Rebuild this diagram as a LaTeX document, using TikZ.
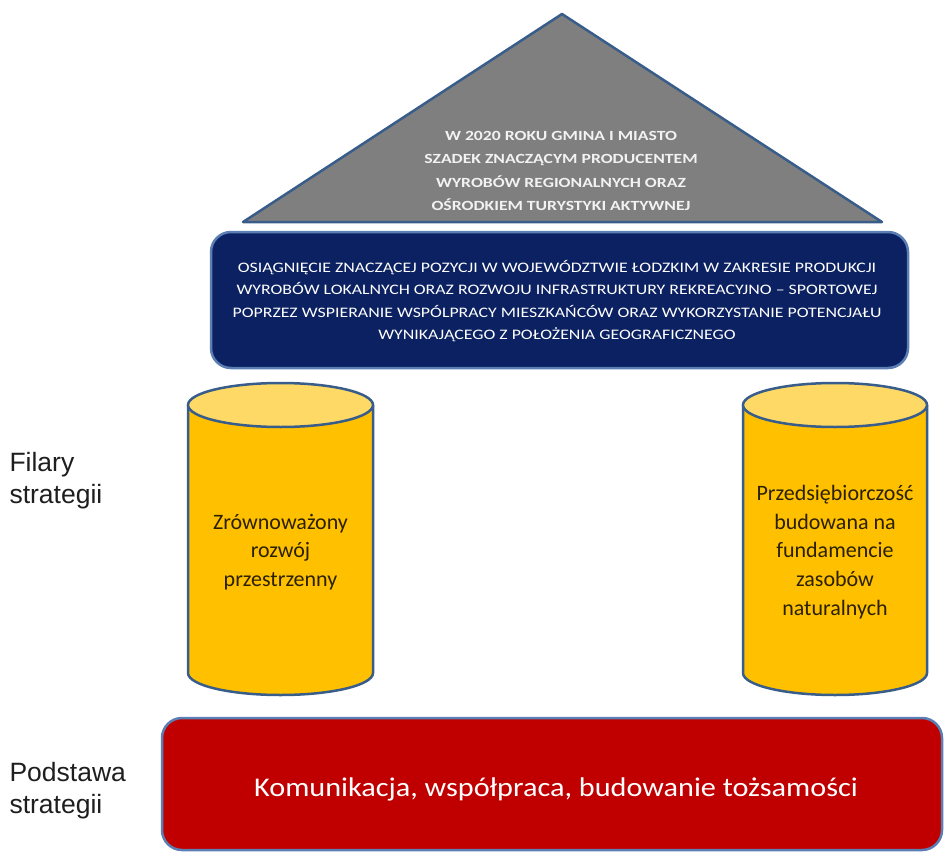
\documentclass[tikz,border=0pt]{standalone}
\usepackage{fontspec}
\setmainfont{Carlito}
\newfontfamily\arialf{Liberation Sans}
\definecolor{edgeblue}{HTML}{385D8A}
\definecolor{boxedge}{HTML}{5B7FB5}
\definecolor{roofgray}{HTML}{7F7F7F}
\definecolor{navy}{HTML}{0B2161}
\definecolor{pillar}{HTML}{FFC000}
\definecolor{pillartop}{HTML}{FFD966}
\definecolor{basered}{HTML}{C00000}
\definecolor{pillartext}{HTML}{2B2100}
\definecolor{labeltext}{HTML}{1E1E1E}
\definecolor{rooftextc}{HTML}{F2F2F2}
\tikzset{
  roof/.style={fill=roofgray, draw=edgeblue, line width=2.5pt, line join=round},
  roundbox/.style={draw=boxedge, line width=2.5pt, rounded corners=20pt},
  pillarline/.style={draw=edgeblue, line width=2.5pt},
  rooftext/.style={text=rooftextc, font=\fontsize{14}{23.3}\selectfont\bfseries, align=center, xscale=1.26, transform shape},
  goaltext/.style={text=white, font=\fontsize{14.5}{22.5}\selectfont, align=center, xscale=1.23, transform shape},
  pillartxt/.style={text=pillartext, font=\fontsize{22}{28.7}\selectfont, align=center},
  basetxt/.style={text=white, font=\fontsize{27}{32}\selectfont, xscale=1.12, transform shape},
  sidelabel/.style={text=labeltext, font=\arialf\fontsize{26.5}{32}\selectfont, align=left, anchor=west}
}
\begin{document}
\begin{tikzpicture}[x=1pt,y=-1pt]
\useasboundingbox (0,0) rectangle (945,856);
% roof
\draw[roof] (243,222) -- (562,14) -- (882,222) -- cycle;
\node[rooftext] (vision) at (561,171) {W 2020 ROKU GMINA I MIASTO\\SZADEK ZNACZĄCYM PRODUCENTEM\\WYROBÓW REGIONALNYCH ORAZ\\OŚRODKIEM TURYSTYKI AKTYWNEJ};
% goal box
\draw[roundbox, fill=navy] (211,232) rectangle (908,368);
\node[goaltext] (goal) at (557,301) {OSIĄGNIĘCIE ZNACZĄCEJ POZYCJI W WOJEWÓDZTWIE ŁODZKIM W ZAKRESIE PRODUKCJI\\WYROBÓW LOKALNYCH ORAZ ROZWOJU INFRASTRUKTURY REKREACYJNO -- SPORTOWEJ\\POPRZEZ WSPIERANIE WSPÓLPRACY MIESZKAŃCÓW ORAZ WYKORZYSTANIE POTENCJAŁU\\WYNIKAJĄCEGO Z POŁOŻENIA GEOGRAFICZNEGO};
% left pillar
\fill[pillar] (188,405) -- (188,673) arc[start angle=180, end angle=360, x radius=92.5pt, y radius=22pt] -- (373,405) -- cycle;
\draw[pillarline] (188,405) -- (188,673) arc[start angle=180, end angle=360, x radius=92.5pt, y radius=22pt] -- (373,405);
\draw[pillarline, fill=pillartop] (280.5,405) ellipse [x radius=92.5pt, y radius=22pt];
\node[pillartxt] (p1) at (280.5,552) {Zrównoważony\\rozwój\\przestrzenny};
% right pillar
\fill[pillar] (743,405) -- (743,673) arc[start angle=180, end angle=360, x radius=92pt, y radius=22pt] -- (927,405) -- cycle;
\draw[pillarline] (743,405) -- (743,673) arc[start angle=180, end angle=360, x radius=92pt, y radius=22pt] -- (927,405);
\draw[pillarline, fill=pillartop] (835,405) ellipse [x radius=92pt, y radius=22pt];
\node[pillartxt] (p2) at (835,552) {Przedsiębiorczość\\budowana na\\fundamencie\\zasobów\\naturalnych};
% base
\draw[roundbox, fill=basered] (162,718) rectangle (942,850);
\node[basetxt] (base) at (556,789) {Komunikacja, współpraca, budowanie tożsamości};
% side labels
\node[sidelabel] (l1) at (6,481) {Filary\\strategii};
\node[sidelabel] (l2) at (6,791) {Podstawa\\strategii};
\end{tikzpicture}
\end{document}
